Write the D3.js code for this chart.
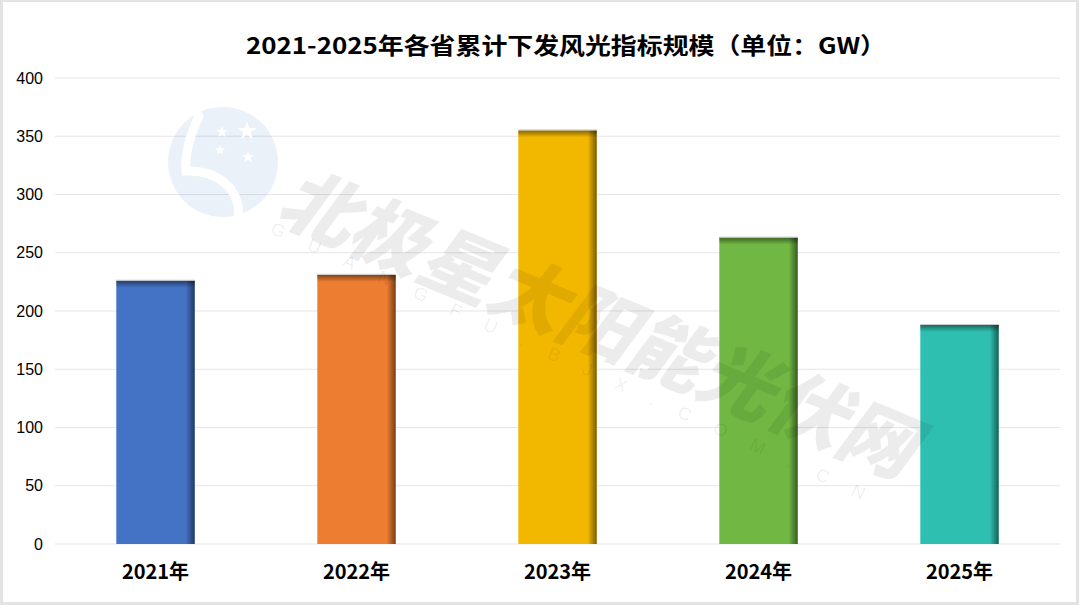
<!DOCTYPE html>
<html>
<head>
<meta charset="utf-8">
<script src="https://cdn.jsdelivr.net/npm/d3@7"></script>
<style>
  html, body { margin: 0; padding: 0; background: #fff; }
  svg { display: block; }
</style>
</head>
<body>
<div id="chart"></div>
<script>
const years = ["2021年", "2022年", "2023年", "2024年", "2025年"]
const values = [226, 231, 355, 263, 188]
const colors = ["#4472c4", "#ed7d31", "#f2b800", "#70b843", "#2fbfb0"]
const yTicks = [0, 50, 100, 150, 200, 250, 300, 350, 400]
const title = "2021-2025年各省累计下发风光指标规模（单位：GW）"

const width = 1080, height = 605
const margin = { top: 78, right: 20, bottom: 61, left: 55 }

const svg = d3.select("#chart").append("svg")
  .attr("width", width)
  .attr("height", height)

const defs = svg.append("defs")
const gr = defs.append("linearGradient").attr("id", "shadeR")
  .attr("x1", 0).attr("x2", 1).attr("y1", 0).attr("y2", 0)
gr.append("stop").attr("offset", 0).attr("stop-color", "#000").attr("stop-opacity", 0)
gr.append("stop").attr("offset", 1).attr("stop-color", "#000").attr("stop-opacity", 0.5)
const gt = defs.append("linearGradient").attr("id", "shadeT")
  .attr("x1", 0).attr("x2", 0).attr("y1", 0).attr("y2", 1)
gt.append("stop").attr("offset", 0).attr("stop-color", "#000").attr("stop-opacity", 0.45)
gt.append("stop").attr("offset", 1).attr("stop-color", "#000").attr("stop-opacity", 0)

// frame
svg.append("rect")
  .attr("x", 1.5).attr("y", 0.5)
  .attr("width", width - 4).attr("height", height - 2)
  .attr("fill", "#fff")
  .attr("stroke", "#e3e3e3")
  .attr("stroke-width", 3)

const x = d3.scaleBand()
  .domain(years)
  .range([margin.left, width - margin.right])
  .paddingInner(0.61)
  .paddingOuter(0.305)

const y = d3.scaleLinear()
  .domain([0, 400])
  .range([height - margin.bottom, margin.top])

// grid
svg.append("g")
  .selectAll("line")
  .data(yTicks)
  .join("line")
  .attr("x1", margin.left)
  .attr("x2", width - margin.right)
  .attr("y1", d => y(d))
  .attr("y2", d => y(d))
  .attr("stroke", "#e6e6e6")
  .attr("stroke-width", 1.2)

// y axis labels
const yAxis = svg.append("g")
  .attr("transform", `translate(${margin.left - 12},0)`)
  .call(d3.axisLeft(y).tickValues(yTicks).tickSize(0).tickPadding(0))
yAxis.select(".domain").remove()
yAxis.selectAll("text")
  .attr("font-family", "Liberation Sans, Arial, sans-serif")
  .attr("font-size", 16)
  .attr("fill", "#000")

// bars
const bars = svg.append("g")
  .selectAll("g")
  .data(years)
  .join("g")

bars.append("rect")
  .attr("x", d => x(d))
  .attr("y", (d, i) => y(values[i]))
  .attr("width", x.bandwidth())
  .attr("height", (d, i) => y(0) - y(values[i]))
  .attr("fill", (d, i) => colors[i])

bars.append("rect")
  .attr("x", d => x(d) + x.bandwidth() - 9)
  .attr("y", (d, i) => y(values[i]))
  .attr("width", 9)
  .attr("height", (d, i) => y(0) - y(values[i]))
  .attr("fill", "url(#shadeR)")

bars.append("rect")
  .attr("x", d => x(d))
  .attr("y", (d, i) => y(values[i]))
  .attr("width", x.bandwidth())
  .attr("height", 7)
  .attr("fill", "url(#shadeT)")

bars.append("line")
  .attr("x1", d => x(d))
  .attr("x2", d => x(d) + x.bandwidth())
  .attr("y1", (d, i) => y(values[i]) - 0.5)
  .attr("y2", (d, i) => y(values[i]) - 0.5)
  .attr("stroke", "#c8c8c8")
  .attr("stroke-width", 1)

// x axis labels
const xAxis = svg.append("g")
  .attr("transform", `translate(0,${y(0)})`)
  .call(d3.axisBottom(x).tickSize(0).tickPadding(21))
xAxis.select(".domain").remove()
xAxis.selectAll("text")
  .attr("font-family", "Noto Sans CJK SC, sans-serif")
  .attr("font-weight", "bold")
  .attr("font-size", 20)
  .attr("fill", "#000")

// title
svg.append("text")
  .attr("x", 566)
  .attr("y", 54)
  .attr("text-anchor", "middle")
  .attr("font-family", "Noto Sans CJK SC, sans-serif")
  .attr("font-weight", "bold")
  .attr("font-size", 23)
  .attr("textLength", 640)
  .attr("lengthAdjust", "spacingAndGlyphs")
  .attr("fill", "#000")
  .text(title)

// watermark
const wm = svg.append("g").attr("pointer-events", "none")
wm.append("circle")
  .attr("cx", 223).attr("cy", 162).attr("r", 55)
  .attr("fill", "#3a78c2").attr("fill-opacity", 0.1)
wm.append("path")
  .attr("d", "M199,116 Q184,148 186,171 Q214,170 230,188 Q241,203 238,218")
  .attr("fill", "none")
  .attr("stroke", "#fff")
  .attr("stroke-width", 9)
  .attr("stroke-linecap", "round")
const star = d3.symbol().type(d3.symbolStar)
;[[247, 131, 110], [222, 132, 45], [220, 150, 35], [248, 157, 45]].forEach(s => {
  wm.append("path")
    .attr("d", star.size(s[2])())
    .attr("transform", `translate(${s[0]},${s[1]})`)
    .attr("fill", "#fff")
})
wm.append("text")
  .attr("transform", "translate(600,318) rotate(22.5)")
  .attr("text-anchor", "middle")
  .attr("dominant-baseline", "central")
  .attr("font-family", "Noto Sans CJK SC, sans-serif")
  .attr("font-weight", 900)
  .attr("font-size", 76)
  .attr("font-style", "italic")
  .attr("textLength", 680)
  .attr("lengthAdjust", "spacingAndGlyphs")
  .attr("fill", "#000")
  .attr("fill-opacity", 0.075)
  .text("北极星太阳能光伏网")
wm.append("text")
  .attr("transform", "translate(568,361) rotate(24.3)")
  .attr("text-anchor", "middle")
  .attr("dominant-baseline", "central")
  .attr("font-family", "Liberation Sans, sans-serif")
  .attr("font-size", 18)
  .attr("textLength", 650)
  .attr("lengthAdjust", "spacing")
  .attr("fill", "#000")
  .attr("fill-opacity", 0.07)
  .text("GUANGFU.BJX.COM.CN")
</script>
</body>
</html>
